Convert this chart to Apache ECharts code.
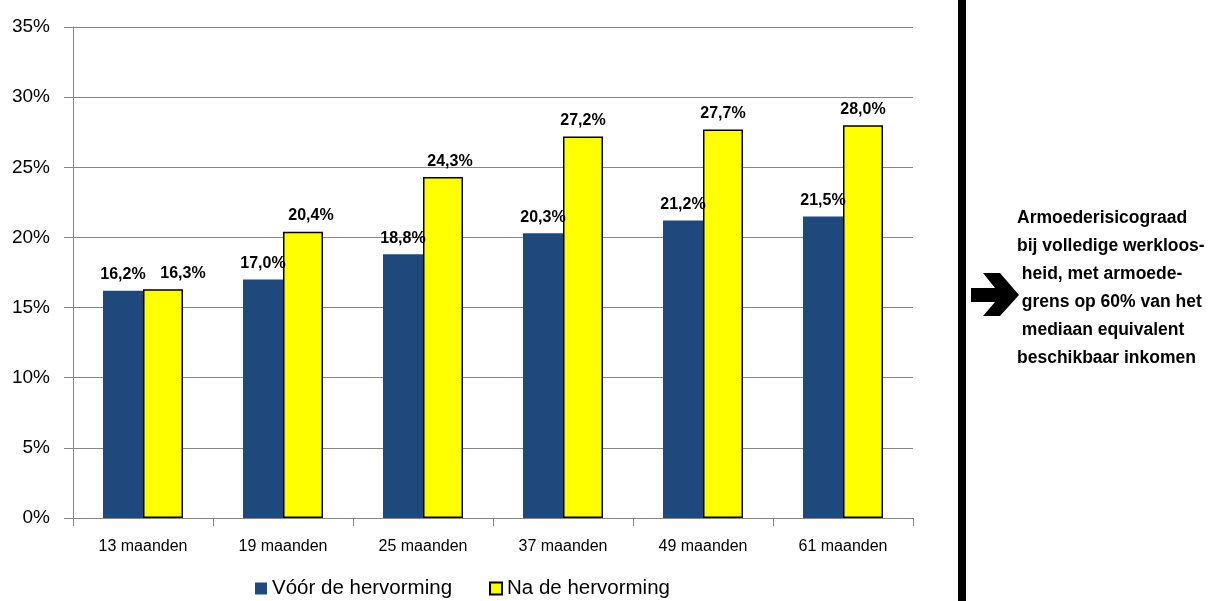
<!DOCTYPE html>
<html>
<head>
<meta charset="utf-8">
<script src="https://cdn.jsdelivr.net/npm/echarts@6/dist/echarts.min.js"></script>
<style>
	html, body { margin: 0; padding: 0; background: #fff; }
	#chart { width: 1213px; height: 601px; }
</style>
</head>
<body>
<div id="chart"></div>
<script>
// gegevens
const categories = ["13 maanden", "19 maanden", "25 maanden", "37 maanden", "49 maanden", "61 maanden"];
const voorHervorming = [16.2, 17.0, 18.8, 20.3, 21.2, 21.5];
const naHervorming = [16.3, 20.4, 24.3, 27.2, 27.7, 28.0];
const seriesNames = ["Vóór de hervorming", "Na de hervorming"];
const noteLines = [
	"Armoederisicograad",
	"bij volledige werkloos-",
	" heid, met armoede-",
	" grens op 60% van het",
	" mediaan equivalent",
	"beschikbaar inkomen"
];
// labels van de gele staven een beetje naar rechts geschoven (zoals in Excel)
const naLabelShift = [20, 8, 7, 0, 0, 0];

const regular = "'Liberation Sans', Arial, sans-serif";
const fmt = v => v.toFixed(1).replace(".", ",") + "%";

const myChart = echarts.init(document.getElementById("chart"));

const labelStyle = {
	show: true,
	position: "top",
	distance: 8,
	color: "#000",
	fontFamily: regular,
	fontWeight: "bold",
	fontSize: 16,
	formatter: p => fmt(p.value)
};

const option = {
	animation: false,
	backgroundColor: "#fff",
	grid: {
		left: 73,
		right: 300,
		top: 27,
		bottom: 83
	},
	legend: {
		bottom: -3,
		left: 250,
		icon: "rect",
		itemWidth: 12,
		itemHeight: 12,
		itemGap: 37,
		textStyle: { fontFamily: regular, fontSize: 20.5, color: "#000" },
		data: seriesNames
	},
	xAxis: {
		type: "category",
		data: categories,
		axisLine: { lineStyle: { color: "#868686", width: 1 } },
		axisTick: { show: true, length: 8, lineStyle: { color: "#868686" } },
		axisLabel: { color: "#000", fontFamily: regular, fontSize: 16, margin: 21 }
	},
	yAxis: {
		type: "value",
		min: 0,
		max: 35,
		interval: 5,
		axisLine: { show: true, lineStyle: { color: "#868686", width: 1 } },
		axisTick: { show: true, length: 9, lineStyle: { color: "#868686" } },
		axisLabel: { color: "#000", fontFamily: regular, fontSize: 19, margin: 23, formatter: "{value}%" },
		splitLine: { lineStyle: { color: "#868686", width: 1 } }
	},
	graphic: [
		{
			type: "rect",
			left: 958,
			top: 0,
			shape: { width: 8, height: 601 },
			style: { fill: "#000" }
		},
		{
			// pijl
			type: "polygon",
			shape: {
				points: [[971, 288], [995, 288], [983, 273], [1000, 273], [1019, 295], [1000, 316], [983, 316], [995, 302], [971, 302]]
			},
			style: { fill: "#000" }
		},
		{
			type: "text",
			left: 1017,
			top: 204,
			style: {
				text: noteLines.join("\n"),
				fill: "#000",
				font: "bold 17.5px " + regular,
				lineHeight: 28
			}
		}
	],
	series: [
		{
			name: seriesNames[0],
			type: "bar",
			data: voorHervorming,
			barWidth: 40,
			barGap: "0%",
			itemStyle: { color: "#1F497D" },
			label: labelStyle
		},
		{
			name: seriesNames[1],
			type: "bar",
			data: naHervorming.map((v, i) => ({ value: v, label: { offset: [naLabelShift[i], 0] } })),
			barWidth: 40,
			barGap: "0%",
			itemStyle: { color: "#FFFF00", borderColor: "#000", borderWidth: 1.5 },
			label: labelStyle
		}
	]
};

myChart.setOption(option);
</script>
</body>
</html>
